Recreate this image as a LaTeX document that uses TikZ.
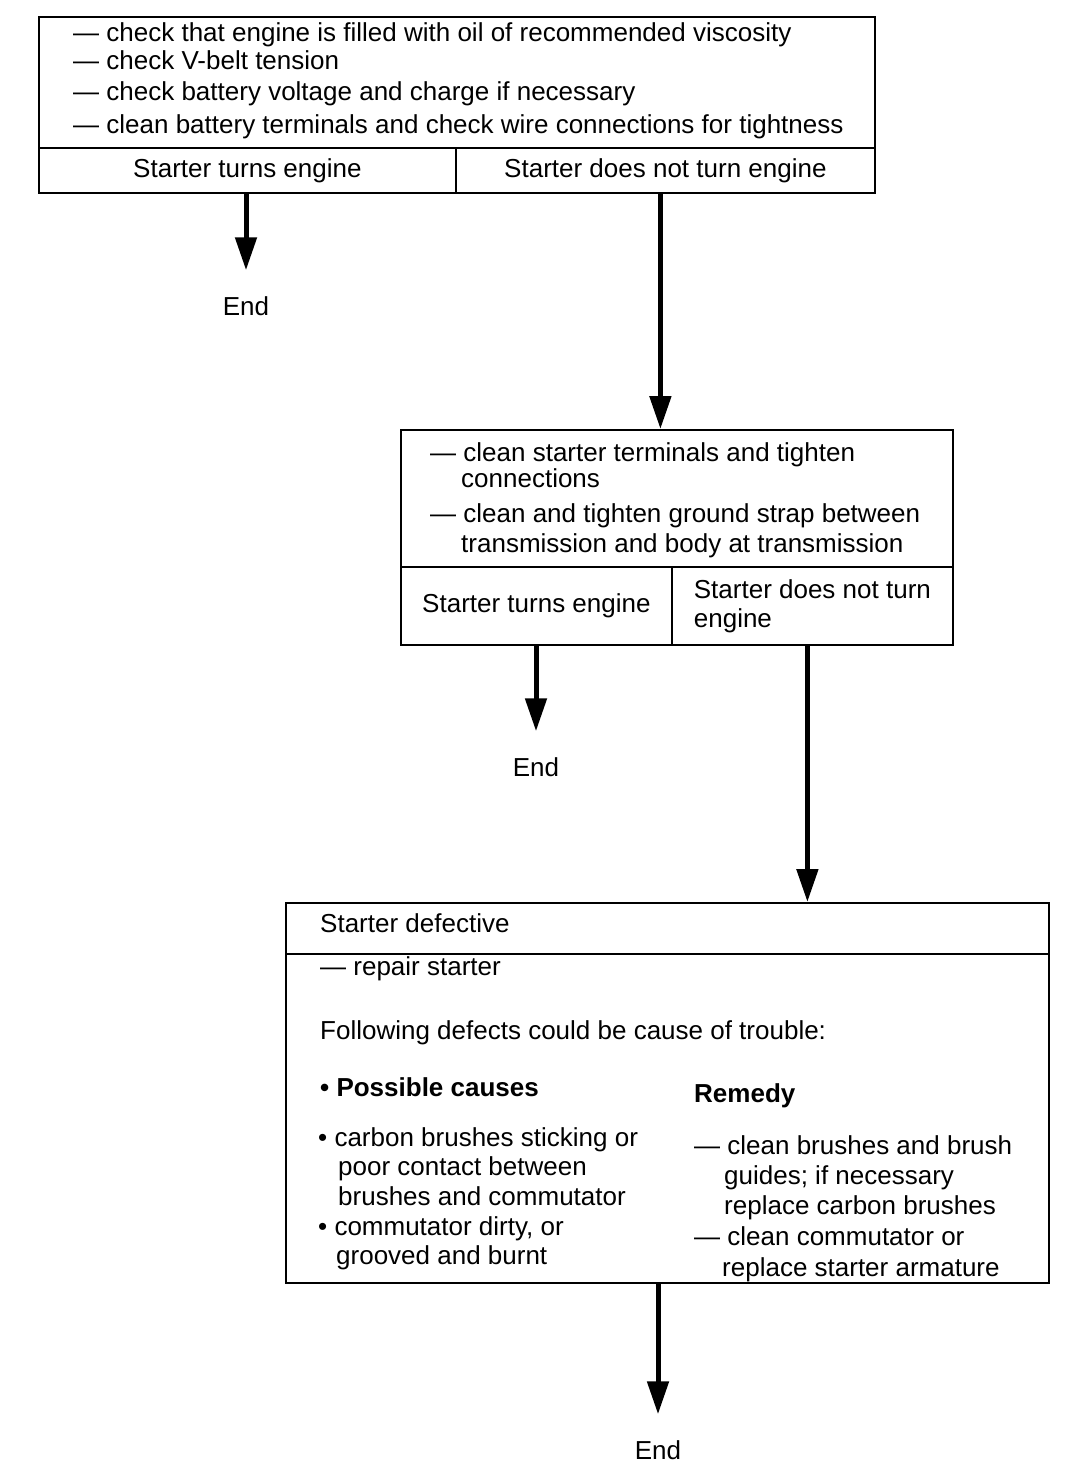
\documentclass[tikz,border=0pt]{standalone}
\usepackage{fontspec}
\setmainfont{Liberation Sans}
\usetikzlibrary{arrows.meta}
\begin{document}
\begin{tikzpicture}[x=1pt,y=-1pt,
  cell/.style={draw, line width=1.8pt, inner sep=0pt, anchor=north west, font=\fontsize{26}{29}\selectfont, align=left},
  txt/.style={font=\fontsize{26}{30}\selectfont, inner sep=0pt, anchor=mid west, yshift=-7pt},
  btxt/.style={txt, font=\fontsize{26}{30}\selectfont\bfseries},
  endtxt/.style={font=\fontsize{26}{30}\selectfont, inner sep=0pt},
  arr/.style={line width=5pt, shorten >=26pt, -{Triangle[length=33pt,width=21pt]}}]
\useasboundingbox (0,0) rectangle (1072,1464);
% box 1
\node[cell, minimum width=836pt, minimum height=131pt] (b1t) at (38,16) {};
\node[cell, minimum width=417pt, minimum height=45pt] (b1l) at (38,147) {Starter turns engine};
\node[cell, minimum width=419pt, minimum height=45pt] (b1r) at (455,147) {Starter does not turn engine};
\node[txt] (t11) at (73,32) {— check that engine is filled with oil of recommended viscosity};
\node[txt] (t12) at (73,60) {— check V-belt tension};
\node[txt] (t13) at (73,91) {— check battery voltage and charge if necessary};
\node[txt] (t14) at (73,124) {— clean battery terminals and check wire connections for tightness};
\node[endtxt] (end1) at (246,306) {End};
% box 2
\node[cell, minimum width=552pt, minimum height=137pt] (b2t) at (400,429) {};
\node[cell, minimum width=271pt, minimum height=78pt] (b2l) at (400,566) {Starter turns engine};
\node[cell, minimum width=281pt, minimum height=78pt] (b2r) at (671,566) {Starter does not turn\\engine};
\node[txt] (t21) at (430,452) {— clean starter terminals and tighten};
\node[txt] (t22) at (461,478) {connections};
\node[txt] (t23) at (430,513) {— clean and tighten ground strap between};
\node[txt] (t24) at (461,543) {transmission and body at transmission};
\node[endtxt] (end2) at (536,767) {End};
% box 3
\node[cell, minimum width=763pt, minimum height=51pt] (b3t) at (285,902) {};
\node[cell, minimum width=763pt, minimum height=329pt] (b3b) at (285,953) {};
\node[txt] (t30) at (320,923) {Starter defective};
\node[txt] (t31) at (320,966) {— repair starter};
\node[txt] (t32) at (320,1030) {Following defects could be cause of trouble:};
\node[btxt] (t33) at (320,1087) {• Possible causes};
\node[btxt] (t34) at (694,1093) {Remedy};
\node[txt] (c11) at (318,1137) {• carbon brushes sticking or};
\node[txt] (c12) at (338,1166) {poor contact between};
\node[txt] (c13) at (338,1196) {brushes and commutator};
\node[txt] (c14) at (318,1226) {• commutator dirty, or};
\node[txt] (c15) at (336,1255) {grooved and burnt};
\node[txt] (r11) at (694,1145) {— clean brushes and brush};
\node[txt] (r12) at (724,1175) {guides; if necessary};
\node[txt] (r13) at (724,1205) {replace carbon brushes};
\node[txt] (r14) at (694,1236) {— clean commutator or};
\node[txt] (r15) at (722,1267) {replace starter armature};
\node[endtxt] (end3) at (658,1450) {End};
% arrows
\draw[arr] (end1 |- b1l.south) -- (end1.north);
\draw[arr, shorten >=0pt] ([xshift=-5pt]b1r.south) -- ([xshift=-5pt]b1r.south |- b2t.north);
\draw[arr] (end2 |- b2l.south) -- (end2.north);
\draw[arr, shorten >=0pt] ([xshift=-5pt]b2r.south) -- ([xshift=-5pt]b2r.south |- b3t.north);
\draw[arr] (end3 |- b3b.south) -- (end3.north);
\end{tikzpicture}
\end{document}
